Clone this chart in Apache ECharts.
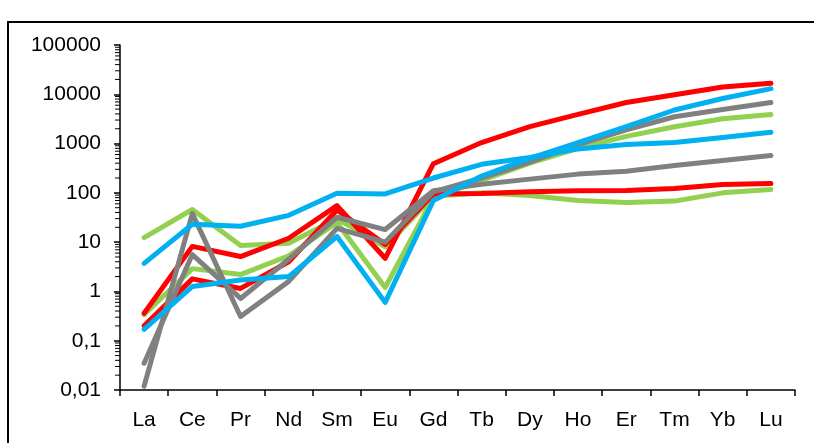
<!DOCTYPE html>
<html>
<head>
<meta charset="utf-8">
<script src="https://cdn.jsdelivr.net/npm/echarts@6/dist/echarts.min.js"></script>
<style>
html,body{margin:0;padding:0;background:#fff;}
#chart{width:814px;height:443px;}
</style>
</head>
<body>
<div id="chart"></div>
<script>
const categories = ['La','Ce','Pr','Nd','Sm','Eu','Gd','Tb','Dy','Ho','Er','Tm','Yb','Lu'];
const yTickValues = [0.01, 0.1, 1, 10, 100, 1000, 10000, 100000];

const greenA = [12.4, 46, 8.5, 9.5, 30, 8, 85, 100, 88, 70, 64, 68, 100, 117];
const greenB = [0.34, 2.9, 2.2, 5.3, 25, 1.2, 80, 180, 400, 800, 1400, 2200, 3200, 3900];
const redA   = [0.36, 8.2, 5.1, 12, 55, 4.7, 390, 1050, 2200, 3900, 6800, 9800, 14000, 16800];
const redB   = [0.2, 1.8, 1.15, 4, 45, 9, 95, 97, 105, 110, 112, 123, 148, 155];
const grayA  = [0.035, 5.6, 0.72, 4.5, 32, 18, 110, 150, 190, 240, 275, 360, 455, 575];
const grayB  = [0.012, 38, 0.31, 1.6, 19, 10, 105, 200, 420, 950, 1900, 3500, 4900, 6800];
const blueA  = [3.7, 23, 21, 35, 98, 95, 200, 380, 520, 780, 960, 1050, 1330, 1700];
const blueB  = [0.17, 1.26, 1.7, 2.0, 13, 0.6, 70, 220, 500, 1050, 2200, 4800, 8200, 13000];

const RED = '#FF0000', GREEN = '#92D050', GRAY = '#808080', BLUE = '#00B0F0';
const seriesList = [
  {name:'greenA', data:greenA, color:GREEN},
  {name:'greenB', data:greenB, color:GREEN},
  {name:'redA', data:redA, color:RED},
  {name:'redB', data:redB, color:RED},
  {name:'grayA', data:grayA, color:GRAY},
  {name:'grayB', data:grayB, color:GRAY},
  {name:'blueA', data:blueA, color:BLUE},
  {name:'blueB', data:blueB, color:BLUE}
];

const FONT = 'Liberation Sans';
const AXIS_X = 120;
const chart = echarts.init(document.getElementById('chart'), null, {renderer:'canvas'});
const frame = {type:'rect', shape:{x:8, y:22, width:900, height:600}, style:{fill:null, stroke:'#000', lineWidth:2}, silent:true};
chart.setOption({
  animation:false,
  backgroundColor:'#fff',
  grid:{left:AXIS_X, right:19, top:45, bottom:53, containLabel:false},
  xAxis:{
    type:'category',
    data:categories,
    boundaryGap:true,
    axisLine:{lineStyle:{color:'#000', width:1.5}},
    axisTick:{show:true, alignWithLabel:false, length:6, lineStyle:{color:'#000', width:1.5}},
    axisLabel:{color:'#000', fontFamily:FONT, fontSize:21, margin:20},
    splitLine:{show:false}
  },
  yAxis:{
    type:'log',
    logBase:10,
    min:0.01,
    max:100000,
    axisLine:{show:true, lineStyle:{color:'#000', width:1.5}},
    axisTick:{show:true, length:6, lineStyle:{color:'#000', width:1.5}},
    axisLabel:{color:'#000', fontFamily:FONT, fontSize:21, margin:19,
      formatter:function(v){
        const t = yTickValues.find(x => Math.abs(Math.log10(x) - Math.log10(v)) < 1e-6);
        return String(t !== undefined ? t : v).replace('.', ',');
      }},
    splitLine:{show:false}
  },
  series: seriesList.map(s => ({
    name:s.name, type:'line', data:s.data, showSymbol:false, symbol:'none',
    lineStyle:{color:s.color, width:5, join:'round', cap:'round'},
    itemStyle:{color:s.color}
  })),
  graphic:[frame]
});

// log-distributed minor ticks on the y axis
const minor = [];
for (let d = -2; d < 5; d++) {
  for (let k = 2; k <= 9; k++) {
    const v = k * Math.pow(10, d);
    const p = chart.convertToPixel({yAxisIndex:0}, v);
    minor.push({type:'line', silent:true,
      shape:{x1:AXIS_X-5, y1:p, x2:AXIS_X, y2:p},
      style:{stroke:'#000', lineWidth:1}});
  }
}
chart.setOption({graphic:[frame].concat(minor)});
</script>
</body>
</html>
